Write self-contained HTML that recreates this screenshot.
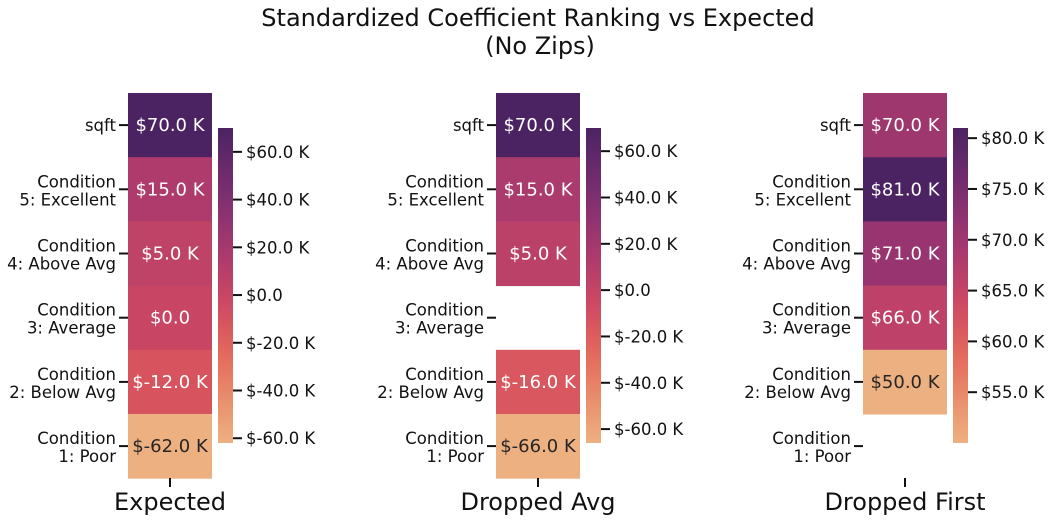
<!DOCTYPE html>
<html><head><meta charset="utf-8"><style>
body{margin:0;background:#fff;}
svg{display:block;font-family:"DejaVu Sans","Liberation Sans",sans-serif;}
</style></head><body>
<svg id="chart" width="1051" height="522" viewBox="0 0 1051 522" xmlns="http://www.w3.org/2000/svg">
<text x="538" y="26" font-size="24" text-anchor="middle" fill="#111">Standardized Coefficient Ranking vs Expected</text>
<text x="540" y="54" font-size="24" text-anchor="middle" fill="#111">(No Zips)</text>
</svg>
<script>
const rowLabels = [["sqft"],["Condition","5: Excellent"],["Condition","4: Above Avg"],["Condition","3: Average"],["Condition","2: Below Avg"],["Condition","1: Poor"]];
const panelTitles = ["Expected","Dropped Avg","Dropped First"];
const expectedVals = [70,15,5,0,-12,-62];
const droppedAvgVals = [70,15,5,null,-16,-66];
const droppedFirstVals = [70,81,71,66,50,null];
const expectedTicks = [60,40,20,0,-20,-40,-60];
const droppedAvgTicks = [60,40,20,0,-20,-40,-60];
const droppedFirstTicks = [80,75,70,65,60,55];
const panelsData = [expectedVals, droppedAvgVals, droppedFirstVals];
const panelsTicks = [expectedTicks, droppedAvgTicks, droppedFirstTicks];

const NS="http://www.w3.org/2000/svg";
const svgEl=document.getElementById('chart');
const flare=["#edb081","#e98d6b","#e3685c","#d14a61","#b13c6c","#8f3371","#6c2b6d","#4b2362"];
function hex(h){return [1,3,5].map(i=>parseInt(h.substr(i,2),16));}
function cmap(t){t=Math.max(0,Math.min(1,t));const n=flare.length-1;const i=Math.min(n-1,Math.floor(t*n));const f=t*n-i;const a=hex(flare[i]),b=hex(flare[i+1]);return a.map((v,k)=>Math.round(v+(b[k]-v)*f));}
function rgb(c){return `rgb(${c[0]},${c[1]},${c[2]})`;}
function mk(tag,attrs,parent){const e=document.createElementNS(NS,tag);for(const k in attrs)e.setAttribute(k,attrs[k]);(parent||svgEl).appendChild(e);return e;}
function fmt(v){return v===0?"$0.0":"$"+v.toFixed(1)+" K";}

const heatX=[128,496,863], heatW=84, heatTop=93, rowH=64.2;
const cbTop=128, cbBot=443, cbW=15;
panelsData.forEach((vals,p)=>{
  const g=mk('g',{});
  
  
  const nums=vals.filter(v=>v!==null);
  const vmin=Math.min(...nums), vmax=Math.max(...nums);
  const norm=v=>(v-vmin)/(vmax-vmin);
  const x0=heatX[p];
  vals.forEach((v,i)=>{
    const y=heatTop+i*rowH;
    const cy=y+rowH/2;
    const tk=mk('line',{x1:x0-9,x2:x0,y1:cy,y2:cy,stroke:'#111','stroke-width':2},g);
    
    
    const lab=rowLabels[i];
    const t=mk('text',{x:x0-12,'font-size':16.5,'text-anchor':'end',fill:'#111'},g);
    
    
    if(lab.length===1){t.setAttribute('y',cy+6);t.textContent=lab[0];}
    else{lab.forEach((s,k)=>{const ts=mk('tspan',{x:x0-12,y:cy-2+k*18},t);ts.textContent=s;});}
    if(v===null)return;
    const c=cmap(norm(v));
    const r=mk('rect',{x:x0,y:y,width:heatW,height:rowH+0.5,fill:rgb(c)},g);
    
    
    const lum=(0.299*c[0]+0.587*c[1]+0.114*c[2]);
    const a=mk('text',{x:x0+heatW/2,y:cy+6,'font-size':18,'text-anchor':'middle',fill:lum>170?'#262626':'#fff'},g);
    
    
    a.textContent=fmt(v);
  });
  const xc=x0+heatW/2;
  mk('line',{x1:xc,x2:xc,y1:478,y2:487,stroke:'#111','stroke-width':2},g);
  const xl=mk('text',{x:xc,y:510,'font-size':24,'text-anchor':'middle',fill:'#111'},g);
  
  
  xl.textContent=panelTitles[p];
  const cx=x0+heatW+6;
  const defs=mk('defs',{},g);
  const grad=mk('linearGradient',{id:'gr'+p,x1:0,y1:1,x2:0,y2:0},defs);
  for(let k=0;k<=20;k++){mk('stop',{offset:k/20,'stop-color':rgb(cmap(k/20))},grad);}
  const cb=mk('rect',{x:cx,y:cbTop,width:cbW,height:cbBot-cbTop,fill:`url(#gr${p})`},g);
  
  
  const sy=v=>cbBot-(v-vmin)/(vmax-vmin)*(cbBot-cbTop);
  panelsTicks[p].forEach(tv=>{
    const yy=sy(tv);
    mk('line',{x1:cx+cbW,x2:cx+cbW+9,y1:yy,y2:yy,stroke:'#111','stroke-width':2},g);
    const tl=mk('text',{x:cx+cbW+13,y:yy+6,'font-size':16.5,fill:'#111'},g);
    
    
    tl.textContent=fmt(tv);
  });
});
</script>
</body></html>
